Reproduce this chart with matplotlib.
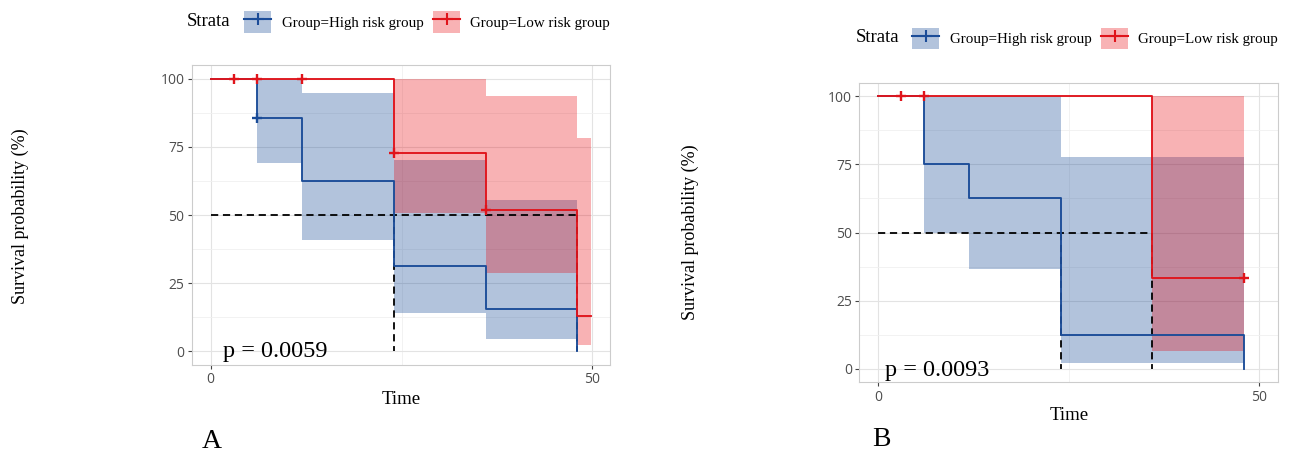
import numpy as np
import matplotlib
matplotlib.use("Agg")
import matplotlib.pyplot as plt
from matplotlib.patches import Patch
from matplotlib.lines import Line2D

# ---------------- data ----------------
# Panel A
a_high_time = [0, 6, 12, 24, 36, 48]
a_high_surv = [100, 85.7, 62.3, 31.2, 15.6, 0]
a_high_lower = [100, 69.2, 40.9, 14.0, 4.5, 4.5]
a_high_upper = [100, 100, 94.8, 70.0, 55.4, 55.4]
a_high_cens_t = [6]
a_high_cens_s = [85.7]

a_low_time = [0, 24, 36, 48, 49.8]
a_low_surv = [100, 72.7, 51.8, 12.9, 12.9]
a_low_lower = [100, 50.6, 28.9, 2.2, 2.2]
a_low_upper = [100, 100, 93.8, 78.2, 78.2]
a_low_cens_t = [3, 6, 12, 24, 36]
a_low_cens_s = [100, 100, 100, 72.7, 51.8]

a_median_times = [24, 48]
a_pval = "p = 0.0059"

# Panel B
b_high_time = [0, 6, 12, 24, 48]
b_high_surv = [100, 75, 62.5, 12.5, 0]
b_high_lower = [100, 49.8, 36.5, 2.1, 2.1]
b_high_upper = [100, 100, 100, 77.9, 77.9]
b_high_cens_t = []
b_high_cens_s = []

b_low_time = [0, 36, 48]
b_low_surv = [100, 33.3, 33.3]
b_low_lower = [100, 6.6, 6.6]
b_low_upper = [100, 100, 100]
b_low_cens_t = [3, 6, 48]
b_low_cens_s = [100, 100, 33.3]

b_median_times = [24, 36]
b_pval = "p = 0.0093"

group_labels = ["Group=High risk group", "Group=Low risk group"]
x_ticks = [0, 50]
y_ticks = [0, 25, 50, 75, 100]

# ---------------- style ----------------
BLUE = "#1B4C98"
BLUE_FILL = "#023A8E"
RED = "#E0141B"
RED_FILL = "#E80008"
SERIF = "Liberation Serif"
TICKFONT = "Open Sans"

W, H = 1289, 454
fig = plt.figure(figsize=(W / 100, H / 100), dpi=100)


def px_axes(left, top, right, bottom):
    return fig.add_axes([left / W, 1 - bottom / H, (right - left) / W, (bottom - top) / H])


def draw_panel(ax, high, low, med_times, pval, xlim, pval_xy):
    ax.set_xlim(*xlim)
    ax.set_ylim(-5, 105)
    ax.set_xticks(x_ticks)
    ax.set_yticks(y_ticks)
    ax.set_xticks([25], minor=True)
    ax.set_yticks([12.5, 37.5, 62.5, 87.5], minor=True)
    ax.grid(which="major", color="#e3e3e3", lw=0.8, zorder=0)
    ax.grid(which="minor", color="#f0f0f0", lw=0.6, zorder=0)
    ax.tick_params(which="minor", length=0)
    ax.tick_params(which="major", length=3.2, width=0.8, color="#444444",
                   labelcolor="#4D4D4D", labelsize=10, pad=2)
    for lab in ax.get_xticklabels() + ax.get_yticklabels():
        lab.set_fontfamily(TICKFONT)
    for s in ax.spines.values():
        s.set_color("#cccccc")
        s.set_linewidth(0.8)
    ax.set_axisbelow(True)

    for (t, s, lo, up, ct, cs, col, fcol) in [high, low]:
        ax.fill_between(t, lo, up, step="post", color=fcol, alpha=0.3, lw=0, zorder=1)
    # median lines
    t_max = max(med_times)
    ax.plot([0, t_max], [50, 50], color="black", lw=1.3, dashes=(4, 2.6), zorder=2)
    for mt in med_times:
        ax.plot([mt, mt], [50, 0], color="black", lw=1.3, dashes=(4, 2.6), zorder=2)
    for (t, s, lo, up, ct, cs, col, fcol) in [high, low]:
        ax.plot(t, s, drawstyle="steps-post", color=col, lw=1.35, zorder=3)
        if len(ct):
            ax.plot(ct, cs, ls="none", marker="+", ms=7.5, mew=1.7, color=col, zorder=4)
    ax.text(pval_xy[0], pval_xy[1], pval, family=SERIF, fontsize=17.5,
            ha="left", va="baseline", zorder=5)


def draw_legend(strata_xy, anchor_xy):
    fig.text(strata_xy[0] / W, 1 - strata_xy[1] / H, "Strata", family=SERIF,
             fontsize=13.5, ha="left", va="center")
    handles = []
    for col, fcol in [(BLUE, BLUE_FILL), (RED, RED_FILL)]:
        p = Patch(facecolor=fcol, alpha=0.3, edgecolor="none")
        l = Line2D([], [], color=col, lw=1.5, marker="+", ms=8, mew=1.5)
        handles.append((p, l))
    fig.legend(handles, group_labels, loc="center left",
               bbox_to_anchor=(anchor_xy[0] / W, 1 - anchor_xy[1] / H),
               ncol=2, frameon=False, prop={"family": SERIF, "size": 10.8},
               handlelength=1.8, handleheight=1.8, handletextpad=0.7,
               columnspacing=0.65, borderpad=0, borderaxespad=0)


# Panel A
axA = px_axes(191.7, 65, 610, 365)
draw_panel(axA,
           (a_high_time, a_high_surv, a_high_lower, a_high_upper, a_high_cens_t, a_high_cens_s, BLUE, BLUE_FILL),
           (a_low_time, a_low_surv, a_low_lower, a_low_upper, a_low_cens_t, a_low_cens_s, RED, RED_FILL),
           a_median_times, a_pval, (-2.49, 52.3), (1.6, -2.0))
fig.text(400.8 / W, 1 - 400 / H, "Time", family=SERIF, fontsize=13.5, ha="center", va="center")
fig.text(20 / W, 1 - 216 / H, "Survival probability (%)", family=SERIF, fontsize=13,
         rotation=90, ha="center", va="center")
fig.text(212 / W, 1 - 442 / H, "A", family=SERIF, fontsize=20, ha="center", va="center")
draw_legend((187, 21), (244, 22))

# Panel B
axB = px_axes(859.3, 82.7, 1278.3, 382.3)
draw_panel(axB,
           (b_high_time, b_high_surv, b_high_lower, b_high_upper, b_high_cens_t, b_high_cens_s, BLUE, BLUE_FILL),
           (b_low_time, b_low_surv, b_low_lower, b_low_upper, b_low_cens_t, b_low_cens_s, RED, RED_FILL),
           b_median_times, b_pval, (-2.45, 52.5), (0.9, -2.6))
fig.text(1068.8 / W, 1 - 416 / H, "Time", family=SERIF, fontsize=13.5, ha="center", va="center")
fig.text(690 / W, 1 - 232 / H, "Survival probability (%)", family=SERIF, fontsize=13,
         rotation=90, ha="center", va="center")
fig.text(881 / W, 1 - 440 / H, "B", family=SERIF, fontsize=20, ha="center", va="center")
draw_legend((856, 38), (912, 38.5))

fig.savefig("out.png", dpi=100)
